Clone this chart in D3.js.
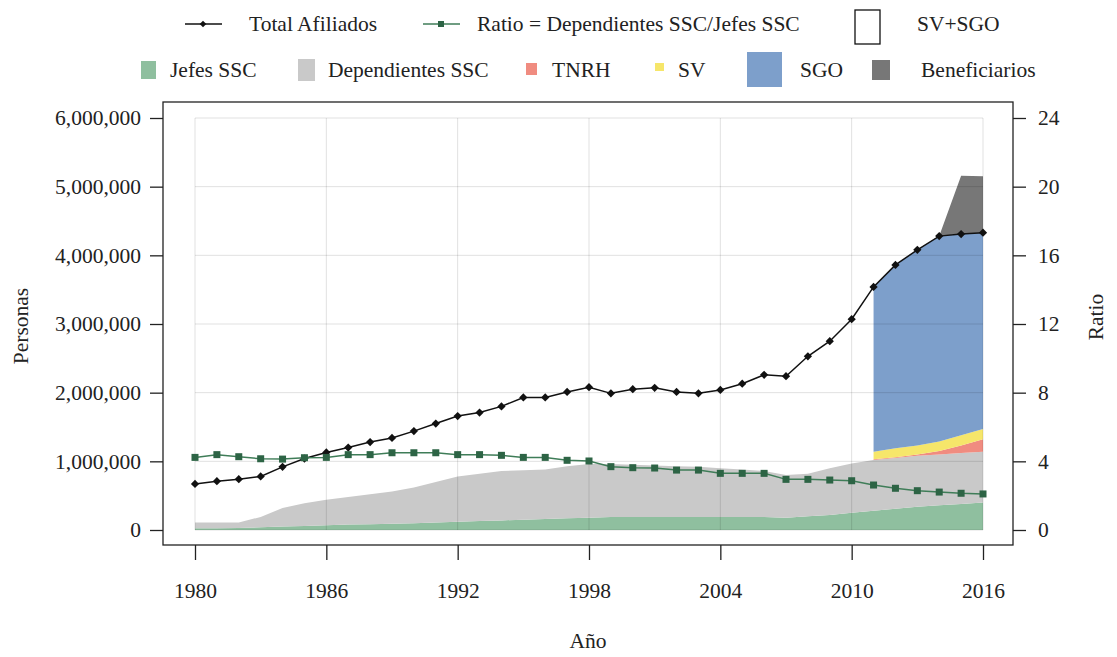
<!DOCTYPE html>
<html>
<head>
<meta charset="utf-8">
<script src="https://cdn.jsdelivr.net/npm/d3@7"></script>
<style>
  body { margin: 0; background: #fff; }
  svg text { font-family: "Liberation Serif", serif; fill: #222; }
</style>
</head>
<body>
<svg id="chart" width="1117" height="657"></svg>
<script>
// years 1980..2016
const years = d3.range(1980, 2017);

// Total Afiliados (personas)
const totalAfiliados = [670000, 710000, 740000, 780000, 920000, 1040000, 1130000, 1200000, 1280000, 1340000,
  1440000, 1550000, 1660000, 1710000, 1800000, 1930000, 1930000, 2010000, 2080000, 1990000,
  2050000, 2070000, 2010000, 1990000, 2040000, 2130000, 2260000, 2240000, 2530000, 2750000,
  3070000, 3540000, 3860000, 4080000, 4280000, 4310000, 4330000];

// Ratio = Dependientes SSC / Jefes SSC
const ratio = [4.23, 4.39, 4.27, 4.15, 4.13, 4.21, 4.23, 4.39, 4.39, 4.50,
  4.50, 4.50, 4.39, 4.39, 4.35, 4.23, 4.23, 4.06, 4.02, 3.69,
  3.63, 3.61, 3.49, 3.49, 3.30, 3.30, 3.30, 2.95, 2.95, 2.91,
  2.87, 2.62, 2.43, 2.29, 2.21, 2.14, 2.10];

const jefesSSC = [25000, 25000, 30000, 40000, 50000, 60000, 70000, 80000, 85000, 90000,
  100000, 110000, 120000, 130000, 140000, 150000, 160000, 170000, 180000, 190000,
  190000, 190000, 190000, 190000, 190000, 190000, 190000, 180000, 200000, 220000,
  250000, 280000, 310000, 340000, 360000, 380000, 400000];

const dependientesSSC = [85000, 85000, 80000, 150000, 270000, 330000, 370000, 400000, 435000, 470000,
  520000, 590000, 660000, 690000, 720000, 720000, 720000, 760000, 780000, 770000,
  760000, 750000, 740000, 730000, 710000, 690000, 670000, 620000, 620000, 680000,
  720000, 740000, 740000, 740000, 740000, 740000, 740000];

// 2011..2016
const yearsSGO = [2011, 2012, 2013, 2014, 2015, 2016];
const tnrh = [10000, 10000, 20000, 50000, 110000, 180000];
const sv = [110000, 130000, 130000, 140000, 150000, 150000];
const sgo = [2400000, 2670000, 2850000, 2990000, 2930000, 2860000];

// 2014..2016
const yearsBenef = [2014, 2015, 2016];
const beneficiarios = [0, 850000, 820000];

const xTicks = [1980, 1986, 1992, 1998, 2004, 2010, 2016];
const yTicks = [0, 1000000, 2000000, 3000000, 4000000, 5000000, 6000000];
const rTicks = [0, 4, 8, 12, 16, 20, 24];

const colors = {
  jefes: "#8fbf9f",
  dep: "#c9c9c9",
  tnrh: "#f08c80",
  sv: "#f6e66a",
  sgo: "#7d9fcb",
  benef: "#777777"
};

const svg = d3.select("#chart");
const frame = {left: 163, right: 1013, top: 102, bottom: 545};

const x = d3.scaleLinear().domain([1980, 2016]).range([195, 983]);
const y = d3.scaleLinear().domain([0, 6000000]).range([530, 118]);
const yR = d3.scaleLinear().domain([0, 24]).range([530, 118]);

// table for the stack
const rows = years.map((yr, i) => {
  const s = yearsSGO.indexOf(yr), b = yearsBenef.indexOf(yr);
  return {
    year: yr,
    jefes: jefesSSC[i],
    dep: dependientesSSC[i],
    tnrh: s >= 0 ? tnrh[s] : 0,
    sv: s >= 0 ? sv[s] : 0,
    sgo: s >= 0 ? sgo[s] : 0,
    benef: b >= 0 ? beneficiarios[b] : 0
  };
});
const keys = ["jefes", "dep", "tnrh", "sv", "sgo", "benef"];
const startYear = {jefes: 1980, dep: 1980, tnrh: 2011, sv: 2011, sgo: 2011, benef: 2014};
const stacked = d3.stack().keys(keys)(rows);

const area = key => d3.area()
  .defined(d => d.data.year >= startYear[key])
  .x(d => x(d.data.year))
  .y0(d => y(d[0]))
  .y1(d => y(d[1]));

svg.append("g")
  .selectAll("path")
  .data(stacked)
  .join("path")
  .attr("fill", d => colors[d.key])
  .attr("d", d => area(d.key)(d));

// grid
const grid = svg.append("g").attr("stroke", "rgba(0,0,0,0.12)").attr("stroke-width", 1);
grid.selectAll(".gx").data(xTicks).join("line")
  .attr("x1", d => x(d)).attr("x2", d => x(d))
  .attr("y1", y(6000000)).attr("y2", y(0));
grid.selectAll(".gy").data(yTicks).join("line")
  .attr("x1", x(1980)).attr("x2", x(2016))
  .attr("y1", d => y(d)).attr("y2", d => y(d));

const diamond = d3.symbol(d3.symbolSquare, 34);

// Total Afiliados
svg.append("path")
  .datum(totalAfiliados)
  .attr("fill", "none")
  .attr("stroke", "#111")
  .attr("stroke-width", 1.5)
  .attr("d", d3.line().x((d, i) => x(years[i])).y(d => y(d)));
svg.append("g").selectAll("path")
  .data(totalAfiliados)
  .join("path")
  .attr("transform", (d, i) => `translate(${x(years[i])},${y(d)}) rotate(45)`)
  .attr("d", diamond)
  .attr("fill", "#111");

// Ratio
svg.append("path")
  .datum(ratio)
  .attr("fill", "none")
  .attr("stroke", "#3f7d58")
  .attr("stroke-width", 1.5)
  .attr("d", d3.line().x((d, i) => x(years[i])).y(d => yR(d)));
svg.append("g").selectAll("rect")
  .data(ratio)
  .join("rect")
  .attr("x", (d, i) => x(years[i]) - 3.5)
  .attr("y", d => yR(d) - 3.5)
  .attr("width", 7).attr("height", 7)
  .attr("fill", "#2d6445");

// frame
svg.append("rect")
  .attr("x", frame.left).attr("y", frame.top)
  .attr("width", frame.right - frame.left).attr("height", frame.bottom - frame.top)
  .attr("fill", "none").attr("stroke", "#222").attr("stroke-width", 1.3);

// axes
const fs = "21.5px";
const left = svg.append("g").attr("transform", `translate(${frame.left},0)`)
  .call(d3.axisLeft(y).tickValues(yTicks).tickFormat(d3.format(",")).tickSize(13).tickPadding(9));
const right = svg.append("g").attr("transform", `translate(${frame.right},0)`)
  .call(d3.axisRight(yR).tickValues(rTicks).tickSize(13).tickPadding(12));
const bottom = svg.append("g").attr("transform", `translate(0,${frame.bottom})`)
  .call(d3.axisBottom(x).tickValues(xTicks).tickFormat(d3.format("d")).tickSize(15).tickPadding(23));
[left, right, bottom].forEach(g => {
  g.select(".domain").remove();
  g.selectAll("line").attr("stroke", "#222").attr("stroke-width", 1.3);
  g.selectAll("text").attr("font-size", fs).attr("font-family", "Liberation Serif").attr("fill", "#222");
});

// axis titles
svg.append("text").attr("transform", "translate(28,326) rotate(-90)")
  .attr("text-anchor", "middle").attr("font-size", fs).text("Personas");
svg.append("text").attr("transform", "translate(1103,317) rotate(-90)")
  .attr("text-anchor", "middle").attr("font-size", fs).text("Ratio");
svg.append("text").attr("x", 588).attr("y", 648)
  .attr("text-anchor", "middle").attr("font-size", fs).text("Año");

// legend
const lg = svg.append("g").attr("font-size", fs);
// row 1
lg.append("line").attr("x1", 185).attr("x2", 222).attr("y1", 24).attr("y2", 24).attr("stroke", "#111").attr("stroke-width", 1.5);
lg.append("path").attr("transform", "translate(203,24) rotate(45)").attr("d", d3.symbol(d3.symbolSquare, 22)).attr("fill", "#111");
lg.append("text").attr("x", 249).attr("y", 31).text("Total Afiliados");
lg.append("line").attr("x1", 423).attr("x2", 460).attr("y1", 24).attr("y2", 24).attr("stroke", "#3f7d58").attr("stroke-width", 1.5);
lg.append("rect").attr("x", 438).attr("y", 21).attr("width", 6).attr("height", 6).attr("fill", "#2d6445");
lg.append("text").attr("x", 477).attr("y", 31).text("Ratio = Dependientes SSC/Jefes SSC");
lg.append("rect").attr("x", 855).attr("y", 10).attr("width", 25).attr("height", 34)
  .attr("fill", "none").attr("stroke", "#111").attr("stroke-width", 1.3);
lg.append("text").attr("x", 917).attr("y", 31).text("SV+SGO");

// row 2
const row2 = [
  {label: "Jefes SSC", key: "jefes", sx: 141, sy: 61, w: 15, h: 18, tx: 170},
  {label: "Dependientes SSC", key: "dep", sx: 298, sy: 59, w: 17, h: 22, tx: 328},
  {label: "TNRH", key: "tnrh", sx: 526, sy: 63, w: 11, h: 12, tx: 552},
  {label: "SV", key: "sv", sx: 655, sy: 63, w: 9, h: 8, tx: 678},
  {label: "SGO", key: "sgo", sx: 747, sy: 52, w: 35, h: 35, tx: 800},
  {label: "Beneficiarios", key: "benef", sx: 872, sy: 60, w: 18, h: 20, tx: 921}
];
row2.forEach(d => {
  lg.append("rect").attr("x", d.sx).attr("y", d.sy).attr("width", d.w).attr("height", d.h).attr("fill", colors[d.key]);
  lg.append("text").attr("x", d.tx).attr("y", 77).text(d.label);
});
</script>
</body>
</html>
